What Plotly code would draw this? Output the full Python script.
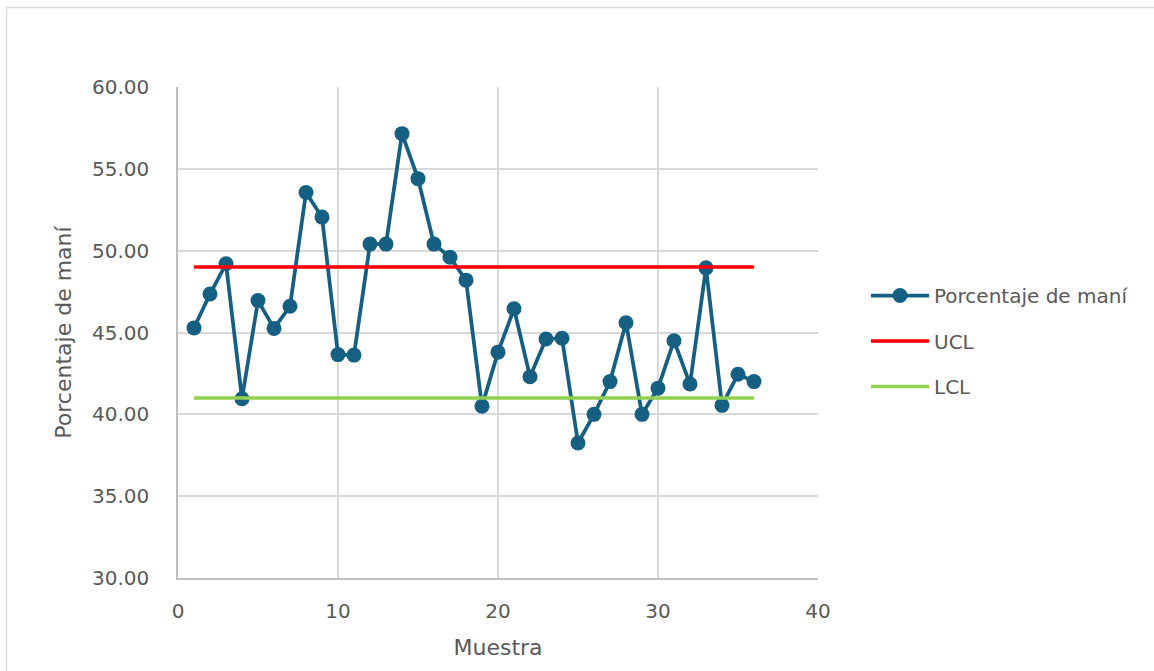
import plotly.graph_objects as go

# Sample number and measured peanut percentage
muestra = list(range(1, 37))
porcentaje = [45.28, 47.35, 49.2, 40.95, 46.95, 45.25, 46.6, 53.55, 52.05, 43.65,
              43.62, 50.4, 50.4, 57.15, 54.4, 50.4, 49.6, 48.2, 40.5, 43.8,
              46.45, 42.3, 44.6, 44.65, 38.25, 40.0, 42.0, 45.6, 40.0, 41.6,
              44.5, 41.85, 48.95, 40.55, 42.45, 42.0]

# Control limits
ucl_value = 49.0
lcl_value = 41.0
ucl = [ucl_value] * len(muestra)
lcl = [lcl_value] * len(muestra)

FONT = "DejaVu Sans"
GREY_TXT = "#595959"
GRID = "#d9d9d9"

W, H = 1154, 671
L, R, T, B = 178, 1154 - 818, 87, 671 - 578


def px_x(p):
    return (p - L) / (W - L - R)


def px_y(p):
    return (H - B - p) / (H - T - B)


fig = go.Figure()
fig.add_trace(go.Scatter(
    x=muestra, y=porcentaje, mode="lines+markers", name="Porcentaje de maní",
    line=dict(color="#156082", width=3.75),
    marker=dict(color="#156082", size=15, symbol="circle"),
    legendgroup="a",
))
fig.add_trace(go.Scatter(
    x=muestra, y=ucl, mode="lines", name="UCL",
    line=dict(color="#ff0000", width=3.5), legendgroup="b",
))
fig.add_trace(go.Scatter(
    x=muestra, y=lcl, mode="lines", name="LCL",
    line=dict(color="#92d050", width=3.5), legendgroup="c",
))

fig.update_layout(
    width=W, height=H,
    margin=dict(l=L, r=R, t=T, b=B),
    paper_bgcolor="white", plot_bgcolor="white",
    font=dict(family=FONT, color=GREY_TXT, size=20),
    showlegend=True,
    legend=dict(
        x=px_x(866), y=px_y(276), xanchor="left", yanchor="top",
        font=dict(family=FONT, size=20, color=GREY_TXT),
        itemwidth=58,
        tracegroupgap=16.5, bgcolor="rgba(0,0,0,0)",
    ),
    xaxis=dict(
        range=[0, 40], tickmode="linear", tick0=0, dtick=10,
        showgrid=True, gridcolor=GRID, gridwidth=1.5,
        showline=True, linecolor="#bfbfbf", linewidth=1.5,
        zeroline=False, ticks="", ticklabelstandoff=14,
        tickfont=dict(family=FONT, size=20, color=GREY_TXT),
        title=dict(text="Muestra", standoff=18,
                   font=dict(family=FONT, size=22, color=GREY_TXT)),
    ),
    yaxis=dict(
        range=[30, 60], tickmode="linear", tick0=30, dtick=5, tickformat=".2f",
        showgrid=True, gridcolor=GRID, gridwidth=1.5,
        showline=True, linecolor="#bfbfbf", linewidth=1.5,
        zeroline=False, ticks="", ticklabelstandoff=23,
        tickfont=dict(family=FONT, size=20, color=GREY_TXT),
        title=dict(text="Porcentaje de maní", standoff=14,
                   font=dict(family=FONT, size=22, color=GREY_TXT)),
    ),
    shapes=[
        # outer chart frame
        dict(type="rect", xref="paper", yref="paper",
             x0=px_x(6.5), x1=px_x(1300), y0=px_y(800), y1=px_y(7.5),
             line=dict(color="#d9d9d9", width=1.5), fillcolor="rgba(0,0,0,0)",
             layer="below"),
    ],
)

fig.write_html("out.html")
